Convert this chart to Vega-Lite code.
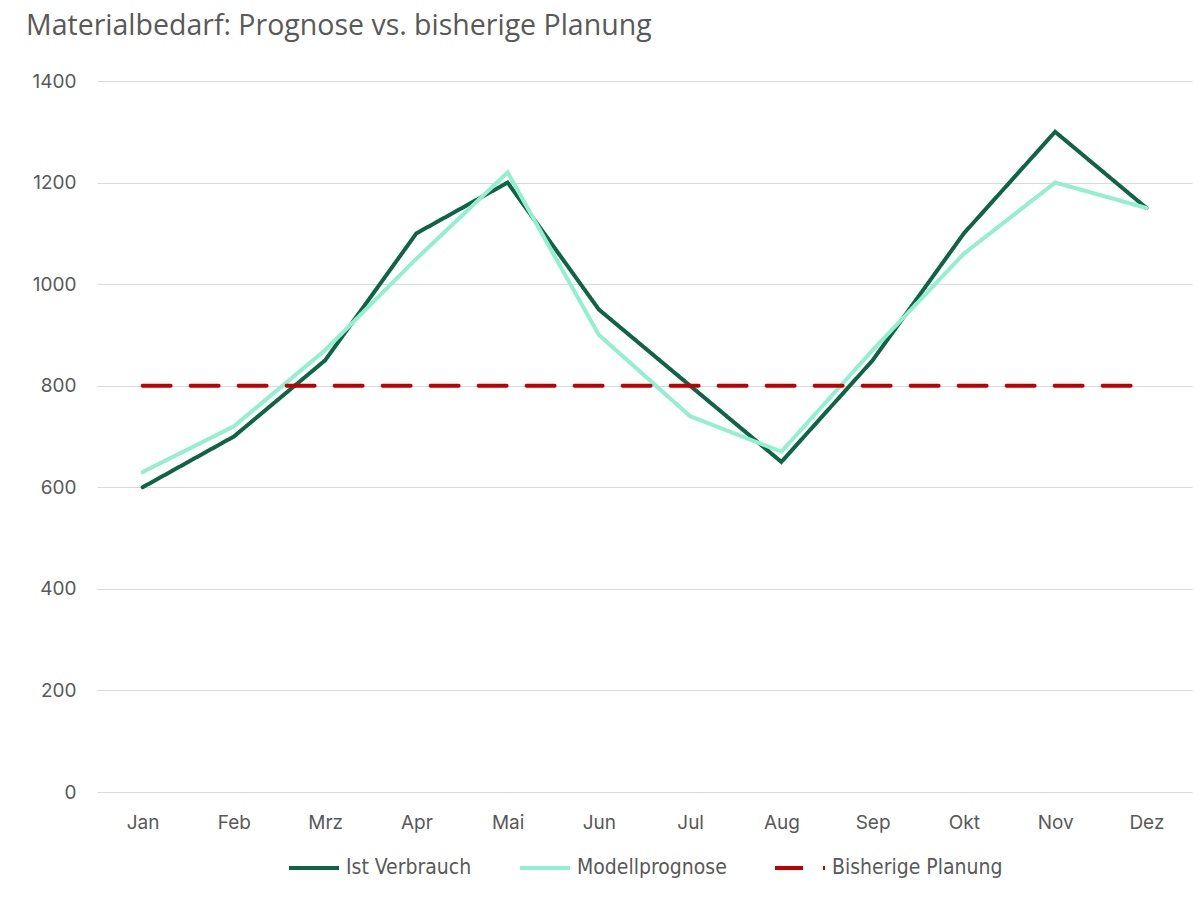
{
  "$schema": "https://vega.github.io/schema/vega-lite/v6.json",
  "autosize": {"type": "fit", "contains": "padding"},
  "width": 1200,
  "height": 900,
  "padding": {"left": 26, "right": 8, "top": 11, "bottom": 22},
  "background": "white",
  "title": {
    "text": "Materialbedarf: Prognose vs. bisherige Planung",
    "anchor": "start",
    "frame": "bounds",
    "dx": -6,
    "font": "Open Sans",
    "fontSize": 28.5,
    "fontWeight": 500,
    "color": "#595959",
    "offset": 32
  },
  "config": {
    "view": {"stroke": null},
    "axis": {"labelFont": "Inter", "labelFontSize": 19, "labelColor": "#595959", "titleColor": "#595959"},
    "legend": {"layout": {"bottom": {"anchor": "middle"}}}
  },
  "data": {
    "values": [
      {"Monat": "Jan", "Serie": "Ist Verbrauch", "Wert": 600},
      {"Monat": "Feb", "Serie": "Ist Verbrauch", "Wert": 700},
      {"Monat": "Mrz", "Serie": "Ist Verbrauch", "Wert": 850},
      {"Monat": "Apr", "Serie": "Ist Verbrauch", "Wert": 1100},
      {"Monat": "Mai", "Serie": "Ist Verbrauch", "Wert": 1200},
      {"Monat": "Jun", "Serie": "Ist Verbrauch", "Wert": 950},
      {"Monat": "Jul", "Serie": "Ist Verbrauch", "Wert": 800},
      {"Monat": "Aug", "Serie": "Ist Verbrauch", "Wert": 650},
      {"Monat": "Sep", "Serie": "Ist Verbrauch", "Wert": 850},
      {"Monat": "Okt", "Serie": "Ist Verbrauch", "Wert": 1100},
      {"Monat": "Nov", "Serie": "Ist Verbrauch", "Wert": 1300},
      {"Monat": "Dez", "Serie": "Ist Verbrauch", "Wert": 1150},
      {"Monat": "Jan", "Serie": "Modellprognose", "Wert": 630},
      {"Monat": "Feb", "Serie": "Modellprognose", "Wert": 720},
      {"Monat": "Mrz", "Serie": "Modellprognose", "Wert": 870},
      {"Monat": "Apr", "Serie": "Modellprognose", "Wert": 1050},
      {"Monat": "Mai", "Serie": "Modellprognose", "Wert": 1220},
      {"Monat": "Jun", "Serie": "Modellprognose", "Wert": 900},
      {"Monat": "Jul", "Serie": "Modellprognose", "Wert": 740},
      {"Monat": "Aug", "Serie": "Modellprognose", "Wert": 670},
      {"Monat": "Sep", "Serie": "Modellprognose", "Wert": 870},
      {"Monat": "Okt", "Serie": "Modellprognose", "Wert": 1060},
      {"Monat": "Nov", "Serie": "Modellprognose", "Wert": 1200},
      {"Monat": "Dez", "Serie": "Modellprognose", "Wert": 1150},
      {"Monat": "Jan", "Serie": "Bisherige Planung", "Wert": 800},
      {"Monat": "Feb", "Serie": "Bisherige Planung", "Wert": 800},
      {"Monat": "Mrz", "Serie": "Bisherige Planung", "Wert": 800},
      {"Monat": "Apr", "Serie": "Bisherige Planung", "Wert": 800},
      {"Monat": "Mai", "Serie": "Bisherige Planung", "Wert": 800},
      {"Monat": "Jun", "Serie": "Bisherige Planung", "Wert": 800},
      {"Monat": "Jul", "Serie": "Bisherige Planung", "Wert": 800},
      {"Monat": "Aug", "Serie": "Bisherige Planung", "Wert": 800},
      {"Monat": "Sep", "Serie": "Bisherige Planung", "Wert": 800},
      {"Monat": "Okt", "Serie": "Bisherige Planung", "Wert": 800},
      {"Monat": "Nov", "Serie": "Bisherige Planung", "Wert": 800},
      {"Monat": "Dez", "Serie": "Bisherige Planung", "Wert": 800}
    ]
  },
  "mark": {"type": "line", "strokeWidth": 4, "strokeCap": "round", "strokeJoin": "miter"},
  "encoding": {
    "x": {
      "field": "Monat",
      "type": "ordinal",
      "sort": ["Jan","Feb","Mrz","Apr","Mai","Jun","Jul","Aug","Sep","Okt","Nov","Dez"],
      "scale": {"type": "point", "padding": 0.5},
      "axis": {"title": null, "labelAngle": 0, "domain": false, "ticks": false, "grid": false, "labelPadding": 21}
    },
    "y": {
      "field": "Wert",
      "type": "quantitative",
      "scale": {"domain": [0, 1400]},
      "axis": {"title": null, "format": "d", "values": [0,200,400,600,800,1000,1200,1400], "domain": false, "ticks": false, "gridColor": "#d9d9d9", "gridWidth": 1, "labelPadding": 21}
    },
    "color": {
      "field": "Serie",
      "type": "nominal",
      "scale": {"domain": ["Ist Verbrauch", "Modellprognose", "Bisherige Planung"], "range": ["#0E6445", "#92EFD0", "#C00000"]},
      "legend": {
        "title": null,
        "orient": "bottom",
        "direction": "horizontal",
        "symbolType": "stroke",
        "symbolSize": 2500,
        "symbolStrokeWidth": 4,
        "labelFont": "DejaVu Sans Condensed, Roboto, sans-serif",
        "labelFontSize": 21,
        "labelLimit": 400,
        "labelColor": "#595959",
        "labelOffset": 5,
        "columnPadding": 40,
        "offset": 9
      }
    },
    "strokeDash": {
      "field": "Serie",
      "type": "nominal",
      "scale": {"domain": ["Ist Verbrauch", "Modellprognose", "Bisherige Planung"], "range": [[1, 0], [1, 0], [28, 20]]},
      "legend": {
        "title": null,
        "orient": "bottom",
        "direction": "horizontal",
        "symbolType": "stroke",
        "symbolSize": 2500,
        "symbolStrokeWidth": 4,
        "labelFont": "DejaVu Sans Condensed, Roboto, sans-serif",
        "labelFontSize": 21,
        "labelLimit": 400,
        "labelColor": "#595959",
        "labelOffset": 5,
        "columnPadding": 40,
        "offset": 9
      }
    }
  }
}
